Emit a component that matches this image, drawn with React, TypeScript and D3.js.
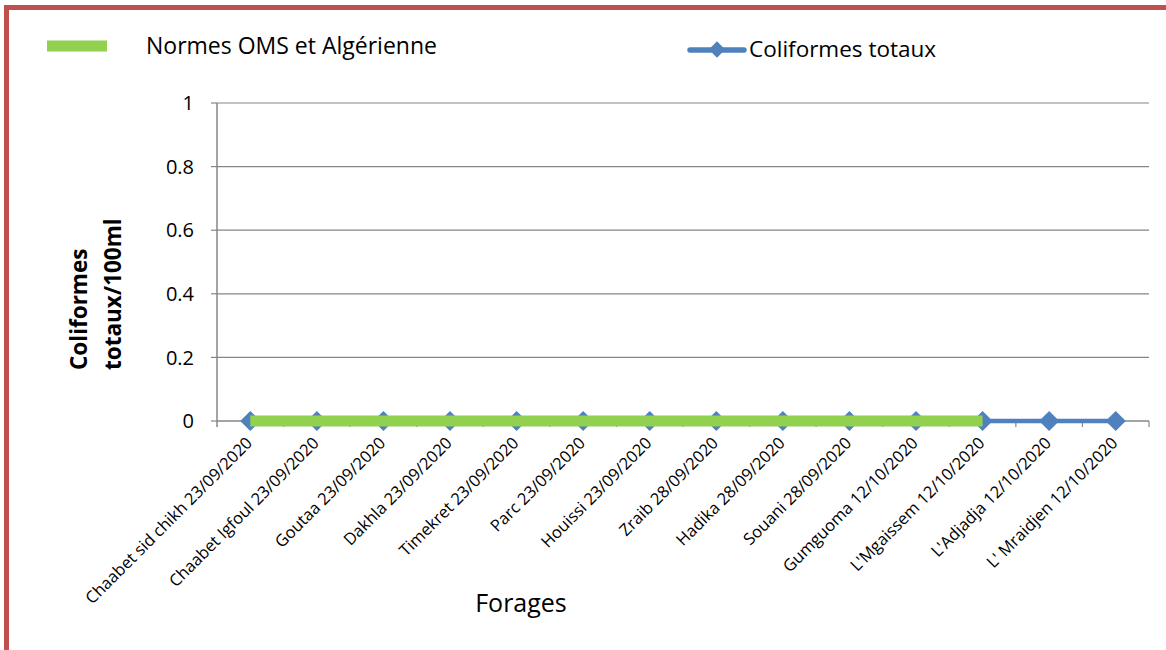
import React, { useEffect, useRef } from "react";
import * as d3 from "d3";

const categories = [
  "Chaabet sid chikh 23/09/2020",
  "Chaabet Igfoul  23/09/2020",
  "Goutaa 23/09/2020",
  "Dakhla 23/09/2020",
  "Timekret 23/09/2020",
  "Parc 23/09/2020",
  "Houissi 23/09/2020",
  "Zraib 28/09/2020",
  "Hadika 28/09/2020",
  "Souani 28/09/2020",
  "Gumguoma 12/10/2020",
  "L'Mgaissem 12/10/2020",
  "L'Adjadja 12/10/2020",
  "L' Mraidjen 12/10/2020",
];
const coliformes = [0, 0, 0, 0, 0, 0, 0, 0, 0, 0, 0, 0, 0, 0];
const normes = [0, 0, 0, 0, 0, 0, 0, 0, 0, 0, 0, 0];
const yTicks = [0, 0.2, 0.4, 0.6, 0.8, 1];
const yTickLabels = ["0", "0.2", "0.4", "0.6", "0.8", "1"];

const FONT = "'Open Sans', sans-serif";

export default function App() {
  const ref = useRef<SVGSVGElement>(null);
  useEffect(() => {
    const svg = d3.select(ref.current);
    svg.selectAll("*").remove();
    const W = 1166, H = 650;
    const left = 217, right = 1149, top = 103, bottom = 421;

    // frame
    svg.append("rect").attr("x", 0).attr("y", 0).attr("width", W).attr("height", H).attr("fill", "#fff");
    svg.append("rect").attr("x", 6.5).attr("y", 7.5).attr("width", 1300).attr("height", 800)
      .attr("fill", "none").attr("stroke", "#C0504D").attr("stroke-width", 5);

    const x = d3.scaleBand<string>().domain(categories).range([left, right]).padding(0);
    const y = d3.scaleLinear().domain([0, 1]).range([bottom, top]);
    const cx = (c: string) => (x(c) as number) + x.bandwidth() / 2;

    // gridlines
    const g = svg.append("g");
    yTicks.forEach((t, i) => {
      if (t !== 0) {
        g.append("line").attr("x1", left).attr("x2", right).attr("y1", y(t)).attr("y2", y(t))
          .attr("stroke", "#868686").attr("stroke-width", 1.2);
      }
      g.append("line").attr("x1", left - 6).attr("x2", left).attr("y1", y(t)).attr("y2", y(t))
        .attr("stroke", "#868686").attr("stroke-width", 1.2);
      g.append("text").attr("x", 194).attr("y", y(t)).attr("dy", "0.36em").attr("text-anchor", "end")
        .attr("font-family", FONT).attr("font-size", 20).attr("fill", "#000").text(yTickLabels[i]);
    });
    // y axis
    g.append("line").attr("x1", left).attr("x2", left).attr("y1", top).attr("y2", bottom + 6)
      .attr("stroke", "#868686").attr("stroke-width", 1.5);
    // x axis
    g.append("line").attr("x1", left).attr("x2", right).attr("y1", bottom).attr("y2", bottom)
      .attr("stroke", "#868686").attr("stroke-width", 1.5);
    categories.forEach((c) => {
      const xe = (x(c) as number) + x.bandwidth();
      g.append("line").attr("x1", xe).attr("x2", xe).attr("y1", bottom).attr("y2", bottom + 6)
        .attr("stroke", "#868686").attr("stroke-width", 1.2);
    });

    // x labels
    categories.forEach((c) => {
      g.append("text")
        .attr("transform", `translate(${cx(c) + 3},${bottom + 23}) rotate(-45)`)
        .attr("text-anchor", "end").attr("font-family", FONT).attr("font-size", 16.5)
        .attr("fill", "#000").text(c);
    });

    // blue series
    const line = d3.line<number>().x((_, i) => cx(categories[i])).y((d) => y(d));
    svg.append("path").datum(coliformes).attr("d", line).attr("fill", "none")
      .attr("stroke", "#4F81BD").attr("stroke-width", 4.5);
    const diamond = d3.symbol().type(d3.symbolDiamond2).size(260);
    coliformes.forEach((v, i) => {
      svg.append("path").attr("d", diamond()).attr("transform", `translate(${cx(categories[i])},${y(v)})`)
        .attr("fill", "#4F81BD");
    });
    // green norm line
    svg.append("path").datum(normes).attr("d", line).attr("fill", "none")
      .attr("stroke", "#92D050").attr("stroke-width", 11);

    // axis titles
    svg.append("text").attr("x", 521).attr("y", 612).attr("text-anchor", "middle")
      .attr("font-family", FONT).attr("font-size", 25).attr("fill", "#000").text("Forages");
    const yt = svg.append("g").attr("transform", "translate(0,370) rotate(-90)");
    yt.append("text").attr("x", 0).attr("y", 87).attr("font-family", FONT).attr("font-weight", "bold")
      .attr("font-size", 22.5).attr("fill", "#000").text("Coliformes");
    yt.append("text").attr("x", 0).attr("y", 121).attr("font-family", FONT).attr("font-weight", "bold")
      .attr("font-size", 22.5).attr("fill", "#000").text("totaux/100ml");

    // legend
    svg.append("line").attr("x1", 47).attr("x2", 107).attr("y1", 46).attr("y2", 46)
      .attr("stroke", "#92D050").attr("stroke-width", 11);
    svg.append("text").attr("x", 146).attr("y", 54).attr("font-family", FONT).attr("font-size", 23)
      .attr("fill", "#000").text("Normes OMS et Algérienne");
    svg.append("line").attr("x1", 690).attr("x2", 744).attr("y1", 50).attr("y2", 50)
      .attr("stroke", "#4F81BD").attr("stroke-width", 5.5).attr("stroke-linecap", "round");
    svg.append("path").attr("d", d3.symbol().type(d3.symbolDiamond2).size(170)())
      .attr("transform", "translate(717,49.5)").attr("fill", "#4F81BD");
    svg.append("text").attr("x", 749).attr("y", 57).attr("font-family", FONT).attr("font-size", 22.5)
      .attr("fill", "#000").text("Coliformes totaux");
  }, []);
  return (
    <svg ref={ref} width={1166} height={650} style={{ position: "absolute", left: 0, top: 0 }} />
  );
}
